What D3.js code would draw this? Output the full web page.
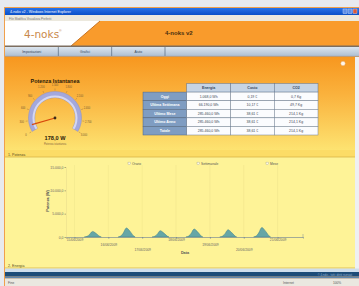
<!DOCTYPE html>
<html>
<head>
<meta charset="utf-8">
<script src="https://cdn.jsdelivr.net/npm/d3@7"></script>
<style>
  body { margin: 0; background: #e8eaef; }
  svg { display: block; font-family: "Liberation Sans", Arial, sans-serif; }
</style>
</head>
<body>
<div id="app"></div>
<script>
// ---- data ----
var tabLabels = ["Impostazioni", "Grafici", "Aiuto"];
var gaugeTicks = [0, 300, 600, 900, 1200, 1500, 1800, 2100, 2400, 2700, 3000];
var gaugeValue = 178;
var tableColumns = ["Energia", "Costo", "CO2"];
var tableRows = ["Oggi", "Ultima Settimana", "Ultimo Mese", "Ultimo Anno", "Totale"];
var energyValues = ["1.068,0 Wh", "66.190,0 Wh", "285.460,0 Wh", "285.460,0 Wh", "285.460,0 Wh"];
var costValues = ["0,19 €", "10,17 €", "38,61 €", "38,61 €", "38,61 €"];
var co2Values = ["0,7 Kg", "49,7 Kg", "214,1 Kg", "214,1 Kg", "214,1 Kg"];
var legendLabels = ["Orario", "Settimanale", "Mese"];
var yTicks = [0, 5000, 10000, 15000];
var dayLabels = ["15/06/2009", "16/06/2009", "17/06/2009", "18/06/2009", "19/06/2009", "20/06/2009"];
var sampleHours = [7, 9, 11, 12, 13, 14, 16, 18, 19];
var dailyPower = [
  [0, 150, 650, 1050, 1200, 1050, 600, 120, 0],
  [0, 250, 1050, 1700, 1950, 1700, 980, 200, 0],
  [0, 170, 720, 1180, 1350, 1170, 680, 140, 0],
  [0, 220, 900, 1480, 1700, 1490, 860, 170, 0],
  [0, 200, 830, 1350, 1550, 1360, 780, 160, 0],
  [0, 260, 1100, 1790, 2050, 1780, 1030, 210, 0]
];

var W = 359, H = 286;
var parseDay = d3.timeParse("%d/%m/%Y");
var it = d3.formatLocale({decimal: ",", thousands: ".", grouping: [3], currency: ["€", ""]});
var fmt1 = it.format(",.1f");

var svg = d3.select("#app").append("svg")
  .attr("width", W)
  .attr("height", H);

var defs = svg.append("defs");
var g1 = defs.append("linearGradient").attr("id", "panelGrad")
  .attr("x1", 0).attr("y1", 0).attr("x2", 0).attr("y2", 1);
g1.append("stop").attr("offset", "0%").attr("stop-color", "#f7971f");
g1.append("stop").attr("offset", "40%").attr("stop-color", "#fab23d");
g1.append("stop").attr("offset", "100%").attr("stop-color", "#fde472");

var g2 = defs.append("linearGradient").attr("id", "tabGrad")
  .attr("x1", 0).attr("y1", 0).attr("x2", 0).attr("y2", 1);
g2.append("stop").attr("offset", "0%").attr("stop-color", "#dde6ef");
g2.append("stop").attr("offset", "100%").attr("stop-color", "#aebfd2");

var g3 = defs.append("linearGradient").attr("id", "titleGrad")
  .attr("x1", 0).attr("y1", 0).attr("x2", 0).attr("y2", 1);
g3.append("stop").attr("offset", "0%").attr("stop-color", "#2a72e8");
g3.append("stop").attr("offset", "100%").attr("stop-color", "#0a50c8");

// ---- window frame ----
svg.append("rect").attr("x", 0).attr("y", 0).attr("width", W).attr("height", H).attr("fill", "#e8eaef");
svg.append("rect").attr("x", 4).attr("y", 7).attr("width", W - 4).attr("height", H - 7).attr("fill", "#f0a04c");
svg.append("rect").attr("x", 5).attr("y", 8).attr("width", W - 5).attr("height", 7).attr("fill", "url(#titleGrad)");
svg.append("text").attr("x", 10).attr("y", 13).attr("font-size", 3.6).attr("fill", "#fff")
  .text("4-noks v2 - Windows Internet Explorer");
[343, 348, 353].forEach(function(bx, i) {
  svg.append("rect").attr("x", bx).attr("y", 9).attr("width", 4).attr("height", 4.5)
    .attr("fill", i == 2 ? "#d8583a" : "#5d8ee8").attr("stroke", "#dfe8f8").attr("stroke-width", 0.4);
});
svg.append("rect").attr("x", 5).attr("y", 15).attr("width", W - 5).attr("height", 6).attr("fill", "#ece9de");
svg.append("text").attr("x", 9).attr("y", 19.5).attr("font-size", 3).attr("fill", "#777")
  .text("File   Modifica   Visualizza   Preferiti");

// ---- header ----
svg.append("rect").attr("x", 5).attr("y", 21).attr("width", W - 5).attr("height", 25).attr("fill", "#f99b2c");
svg.append("polygon")
  .attr("points", "5,21 100,21 71,46 5,46")
  .attr("fill", "#ffffff");
svg.append("line").attr("x1", 100).attr("y1", 21).attr("x2", 71).attr("y2", 46)
  .attr("stroke", "#c87424").attr("stroke-width", 1);
svg.append("rect").attr("x", 5).attr("y", 45.5).attr("width", W - 5).attr("height", 1.6).attr("fill", "#7d6e60");
svg.append("text").attr("x", 24).attr("y", 38).attr("font-size", 10.5)
  .attr("fill", "#c9894a").attr("font-family", "DejaVu Sans, sans-serif").text("4-noks");
svg.append("text").attr("x", 59).attr("y", 31.5).attr("font-size", 3.5).attr("fill", "#c9894a").text("®");
svg.append("text").attr("x", 165).attr("y", 35).attr("font-size", 6).attr("font-weight", "bold")
  .attr("fill", "#4a3010").text("4-noks v2");

// ---- tabs ----
svg.append("rect").attr("x", 5).attr("y", 47).attr("width", W - 5).attr("height", 9).attr("fill", "url(#tabGrad)");
var tabX = d3.scaleBand().domain(tabLabels).range([5, 165]);
var tabs = svg.append("g").selectAll("g").data(tabLabels).enter().append("g");
tabs.append("line")
  .attr("x1", function(d) { return tabX(d) + tabX.bandwidth(); })
  .attr("x2", function(d) { return tabX(d) + tabX.bandwidth(); })
  .attr("y1", 47).attr("y2", 56).attr("stroke", "#56687c").attr("stroke-width", 0.7);
tabs.append("text")
  .attr("x", function(d) { return tabX(d) + tabX.bandwidth() / 2; })
  .attr("y", 53.2).attr("text-anchor", "middle").attr("font-size", 3.4).attr("fill", "#34465a")
  .text(function(d) { return d; });
svg.append("line").attr("x1", 5).attr("x2", W).attr("y1", 56.3).attr("y2", 56.3).attr("stroke", "#8898aa").attr("stroke-width", 0.6);

// ---- main panel ----
svg.append("rect").attr("x", 5).attr("y", 57).attr("width", 350).attr("height", 94).attr("fill", "url(#panelGrad)");
svg.append("rect").attr("x", 355).attr("y", 57).attr("width", 4).attr("height", 212).attr("fill", "#eef0f2");
svg.append("circle").attr("cx", 343).attr("cy", 63.5).attr("r", 2.3).attr("fill", "#fff6ea").attr("stroke", "#e0a060").attr("stroke-width", 0.4);

// gauge
var gcx = 55, gcy = 118;
var gAngle = d3.scaleLinear().domain([0, 3000]).range([-2.1, 2.1]);
var gauge = svg.append("g").attr("transform", "translate(" + gcx + "," + gcy + ")");
svg.append("text").attr("x", gcx).attr("y", 82.5).attr("text-anchor", "middle")
  .attr("font-size", 5.4).attr("font-weight", "bold").attr("fill", "#2a1a08").text("Potenza Istantanea");
gauge.append("path")
  .attr("d", d3.arc().innerRadius(20.5).outerRadius(26.5).startAngle(gAngle(0)).endAngle(gAngle(3000))())
  .attr("fill", "#a4a8dc").attr("stroke", "#8a8fc8").attr("stroke-width", 0.5);
gauge.append("path")
  .attr("d", d3.arc().innerRadius(20.5).outerRadius(22.5).startAngle(gAngle(0)).endAngle(gAngle(3000))())
  .attr("fill", "#d4d7f2");
gauge.selectAll(".gt").data(gaugeTicks).enter().append("line")
  .attr("x1", function(d) { return 27.5 * Math.sin(gAngle(d)); })
  .attr("y1", function(d) { return -27.5 * Math.cos(gAngle(d)); })
  .attr("x2", function(d) { return 29.5 * Math.sin(gAngle(d)); })
  .attr("y2", function(d) { return -29.5 * Math.cos(gAngle(d)); })
  .attr("stroke", "#8a6a40").attr("stroke-width", 0.4);
gauge.selectAll(".gl").data(gaugeTicks).enter().append("text")
  .attr("x", function(d) { return 33.5 * Math.sin(gAngle(d)); })
  .attr("y", function(d) { return -33.5 * Math.cos(gAngle(d)) + 1; })
  .attr("text-anchor", "middle").attr("font-size", 2.6).attr("fill", "#7a5a30")
  .text(function(d) { return it.format(",")(d); });
gauge.append("line")
  .attr("x1", 0).attr("y1", 0)
  .attr("x2", 24 * Math.sin(gAngle(gaugeValue)))
  .attr("y2", -24 * Math.cos(gAngle(gaugeValue)))
  .attr("stroke", "#d8480c").attr("stroke-width", 1.2);
gauge.append("circle").attr("r", 1.4).attr("fill", "#3a2a1a");
svg.append("text").attr("x", gcx).attr("y", 140).attr("text-anchor", "middle")
  .attr("font-size", 5.6).attr("font-weight", "bold").attr("fill", "#2a1a08").text(fmt1(gaugeValue) + " W");
svg.append("text").attr("x", gcx).attr("y", 144.5).attr("text-anchor", "middle")
  .attr("font-size", 2.6).attr("fill", "#8a6a40").text("Potenza istantanea");

// table
var colX = d3.scaleBand().domain([""].concat(tableColumns)).range([143, 318]);
var rowY = d3.scaleBand().domain([""].concat(tableRows)).range([83.5, 135]);
var tbl = svg.append("g");
tbl.selectAll(".hc").data(tableColumns).enter().append("rect")
  .attr("x", function(d) { return colX(d); }).attr("y", rowY(""))
  .attr("width", colX.bandwidth()).attr("height", rowY.bandwidth())
  .attr("fill", "#c6d4e4").attr("stroke", "#5e7594").attr("stroke-width", 0.5);
tbl.selectAll(".ht").data(tableColumns).enter().append("text")
  .attr("x", function(d) { return colX(d) + colX.bandwidth() / 2; })
  .attr("y", rowY("") + rowY.bandwidth() / 2 + 1.3)
  .attr("text-anchor", "middle").attr("font-size", 3.6).attr("font-weight", "bold").attr("fill", "#33475e")
  .text(function(d) { return d; });
tbl.selectAll(".rl").data(tableRows).enter().append("rect")
  .attr("x", colX("")).attr("y", function(d) { return rowY(d); })
  .attr("width", colX.bandwidth()).attr("height", rowY.bandwidth())
  .attr("fill", "#7f9dc2").attr("stroke", "#4e6484").attr("stroke-width", 0.5);
tbl.selectAll(".rt").data(tableRows).enter().append("text")
  .attr("x", colX("") + colX.bandwidth() / 2)
  .attr("y", function(d) { return rowY(d) + rowY.bandwidth() / 2 + 1.3; })
  .attr("text-anchor", "middle").attr("font-size", 3.6).attr("font-weight", "bold").attr("fill", "#ffffff")
  .text(function(d) { return d; });
var cells = [];
tableRows.forEach(function(r, i) {
  cells.push({row: r, col: "Energia", v: energyValues[i]});
  cells.push({row: r, col: "Costo", v: costValues[i]});
  cells.push({row: r, col: "CO2", v: co2Values[i]});
});
tbl.selectAll(".dc").data(cells).enter().append("rect")
  .attr("x", function(d) { return colX(d.col); }).attr("y", function(d) { return rowY(d.row); })
  .attr("width", colX.bandwidth()).attr("height", rowY.bandwidth())
  .attr("fill", "#fbfcfe").attr("stroke", "#6b7f9a").attr("stroke-width", 0.5);
tbl.selectAll(".dt").data(cells).enter().append("text")
  .attr("x", function(d) { return colX(d.col) + colX.bandwidth() / 2; })
  .attr("y", function(d) { return rowY(d.row) + rowY.bandwidth() / 2 + 1.3; })
  .attr("text-anchor", "middle").attr("font-size", 3.5).attr("fill", "#3c4656")
  .text(function(d) { return d.v; });

// ---- section 1: Potenza ----
svg.append("rect").attr("x", 5).attr("y", 150).attr("width", 350).attr("height", 7).attr("fill", "#fcdc66");
svg.append("rect").attr("x", 5).attr("y", 157).attr("width", 350).attr("height", 112).attr("fill", "#fef397");
svg.append("line").attr("x1", 5).attr("x2", 355).attr("y1", 157).attr("y2", 157).attr("stroke", "#d9b448").attr("stroke-width", 0.8);
svg.append("text").attr("x", 8).attr("y", 155.5).attr("font-size", 3.6).attr("fill", "#5a4a20").text("1. Potenza");

var x = d3.scaleTime()
  .domain([new Date(2009, 5, 14, 18), new Date(2009, 5, 21, 18)])
  .range([66, 303]);
var y = d3.scaleLinear().domain([0, 15000]).range([237, 167]);

var chart = svg.append("g");

// faint grid at day ticks
chart.selectAll(".vg").data(x.ticks(d3.timeDay.every(1))).enter().append("line")
  .attr("x1", function(d) { return x(d); }).attr("x2", function(d) { return x(d); })
  .attr("y1", 165).attr("y2", 237).attr("stroke", "#efe28a").attr("stroke-width", 0.5);

// legend
var legX = d3.scalePoint().domain(legendLabels).range([128, 266]);
var leg = chart.selectAll(".leg").data(legendLabels).enter().append("g")
  .attr("transform", function(d) { return "translate(" + legX(d) + ",164.5)"; });
leg.append("rect").attr("x", 0).attr("y", -2.4).attr("width", 2.6).attr("height", 2.6)
  .attr("fill", "#fffbe0").attr("stroke", "#8a8a70").attr("stroke-width", 0.3);
leg.append("text").attr("x", 4).attr("y", 0).attr("font-size", 3.3).attr("fill", "#555")
  .text(function(d) { return d; });

// area series
var area = d3.area()
  .x(function(d) { return x(d.t); })
  .y0(y(0))
  .y1(function(d) { return y(d.w); })
  .curve(d3.curveMonotoneX);
dayLabels.forEach(function(day, i) {
  var base = parseDay(day);
  var pts = sampleHours.map(function(h, j) {
    return {t: d3.timeHour.offset(base, h), w: dailyPower[i][j]};
  });
  chart.append("path").datum(pts)
    .attr("d", area)
    .attr("fill", "#66a6a6").attr("stroke", "#3f7f88").attr("stroke-width", 0.5);
});

// y axis
var yAxis = chart.append("g").attr("transform", "translate(66,0)")
  .call(d3.axisLeft(y).tickValues(yTicks).tickSize(1.5).tickFormat(function(d) { return fmt1(d); }));
yAxis.selectAll("text").attr("font-size", 3.4).attr("fill", "#666").attr("x", -2.5);
yAxis.selectAll("line").attr("stroke", "#b0a878");
yAxis.select(".domain").attr("stroke", "#e6d98a").attr("stroke-width", 0.5);
chart.append("text")
  .attr("transform", "translate(49,201) rotate(-90)")
  .attr("text-anchor", "middle").attr("font-size", 3.8).attr("font-weight", "bold").attr("fill", "#555")
  .text("Potenza (W)");

// x axis
var xAxis = chart.append("g").attr("transform", "translate(0,237)")
  .call(d3.axisBottom(x).ticks(d3.timeDay.every(1)).tickSize(1.5).tickFormat(d3.timeFormat("%d/%m/%Y")));
xAxis.select(".domain").attr("stroke", "#7c8c94").attr("stroke-width", 0.7);
xAxis.selectAll("line").attr("stroke", "#7c8c94");
xAxis.selectAll("text").attr("font-size", 3.3).attr("fill", "#666")
  .attr("y", function(d, i) { return 2 + (i % 3) * 4.8; })
  .attr("dy", "0.71em");
chart.append("line").attr("x1", 303).attr("x2", 303).attr("y1", 234).attr("y2", 238)
  .attr("stroke", "#7c8c94").attr("stroke-width", 0.5);
chart.append("text").attr("x", 185).attr("y", 253.5).attr("text-anchor", "middle")
  .attr("font-size", 3.8).attr("font-weight", "bold").attr("fill", "#555").text("Data");

// ---- section 2: Energia ----
svg.append("line").attr("x1", 5).attr("x2", 355).attr("y1", 268).attr("y2", 268).attr("stroke", "#d9b448").attr("stroke-width", 0.8);
svg.append("text").attr("x", 8).attr("y", 266.5).attr("font-size", 3.6).attr("fill", "#5a4a20").text("2. Energia");
svg.append("rect").attr("x", 5).attr("y", 268.5).attr("width", W - 5).attr("height", 3.5).attr("fill", "#cfdeec");
svg.append("rect").attr("x", 5).attr("y", 272).attr("width", W - 5).attr("height", 4.5).attr("fill", "#1d4c78");
svg.append("rect").attr("x", 5).attr("y", 276.5).attr("width", W - 5).attr("height", 2).attr("fill", "#5f86ad");
svg.append("text").attr("x", 352).attr("y", 275.5).attr("text-anchor", "end").attr("font-size", 2.6)
  .attr("fill", "#9cb8d4").text("© 4-noks - tutti i diritti riservati");

// status bar
svg.append("rect").attr("x", 5).attr("y", 278.5).attr("width", W - 5).attr("height", 7.5).attr("fill", "#eae8e0");
svg.append("text").attr("x", 8).attr("y", 284).attr("font-size", 3.2).attr("fill", "#555").text("Fine");
svg.append("text").attr("x", 283).attr("y", 284).attr("font-size", 3.2).attr("fill", "#555").text("Internet");
svg.append("text").attr("x", 333).attr("y", 284).attr("font-size", 3.2).attr("fill", "#555").text("100%");
</script>
</body>
</html>
